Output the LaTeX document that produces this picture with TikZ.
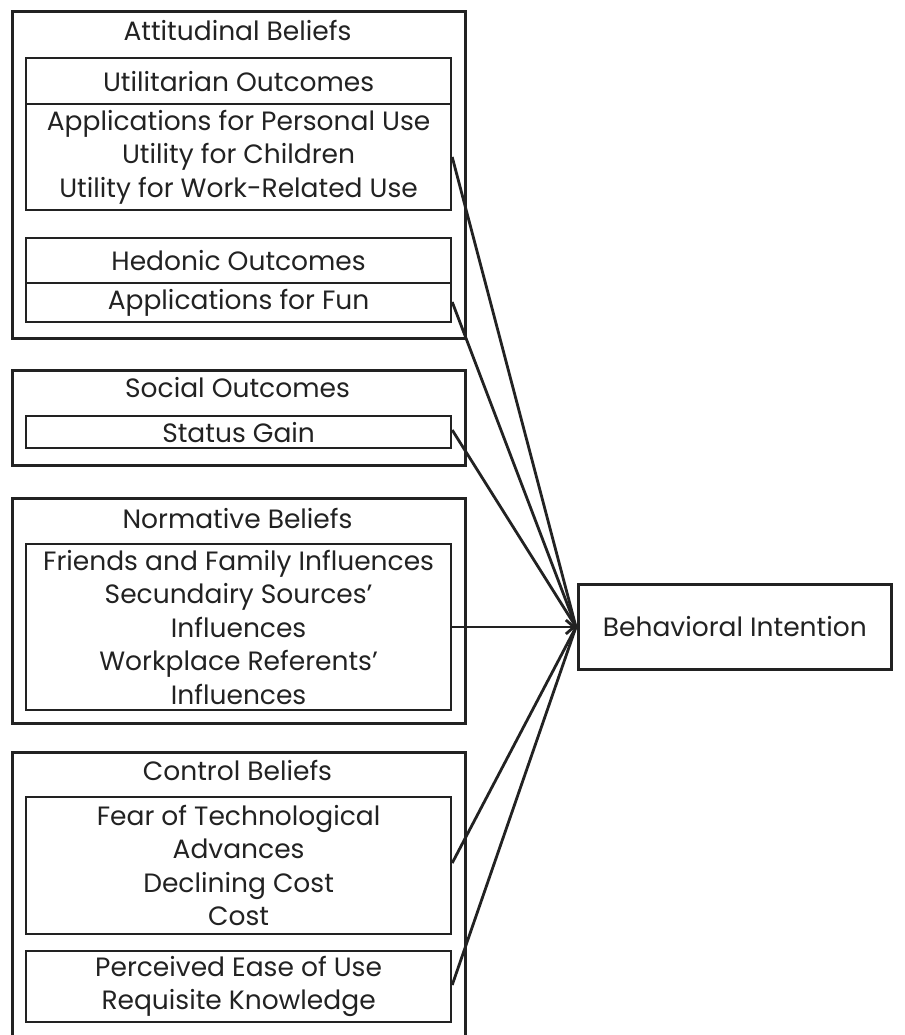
\documentclass[tikz,border=0pt]{standalone}
\usepackage{fontspec}
\setmainfont{Poppins}
\usetikzlibrary{arrows.meta}
\definecolor{ink}{HTML}{222222}
\newcommand{\lblfont}{\fontsize{26.5}{33.5}\selectfont}
\tikzset{
  outerbox/.style={draw=ink, line width=3pt, anchor=north west, inner sep=0pt},
  innerbox/.style={draw=ink, line width=2.2pt, anchor=north west, inner sep=0pt,
                   align=center, font=\lblfont, text=ink},
  title/.style={font=\lblfont, text=ink, inner sep=0pt},
  link/.style={draw=ink, line width=2.8pt},
  arrowlink/.style={link, -{Straight Barb[length=8pt,width=14pt,line width=2.8pt]}},
}
\begin{document}
\begin{tikzpicture}[x=1pt,y=-1pt]
\useasboundingbox[fill=white] (0,0) rectangle (904,1035);

% attitudinal beliefs
\node[outerbox, minimum width=453pt, minimum height=327pt] (att) at (11,10) {};
\node[title] (attT) at (237.5,30) {Attitudinal Beliefs};
\node[innerbox, minimum width=425pt, minimum height=46pt] (utilH) at (25,57) {Utilitarian Outcomes};
\node[innerbox, minimum width=425pt, minimum height=106pt] (utilB) at (25,103)
  {Applications for Personal Use\\Utility for Children\\Utility for Work-Related Use};
\node[innerbox, minimum width=425pt, minimum height=45pt] (hedH) at (25,237) {Hedonic Outcomes};
\node[innerbox, minimum width=425pt, minimum height=39pt] (hedB) at (25,282) {Applications for Fun};

% social outcomes
\node[outerbox, minimum width=453pt, minimum height=95pt] (soc) at (11,369) {};
\node[title] (socT) at (237.5,388) {Social Outcomes};
\node[innerbox, minimum width=425pt, minimum height=32pt] (status) at (25,415) {Status Gain};

% normative beliefs
\node[outerbox, minimum width=453pt, minimum height=225pt] (norm) at (11,497) {};
\node[title] (normT) at (237.5,518) {Normative Beliefs};
\node[innerbox, minimum width=425pt, minimum height=166pt] (normB) at (25,543)
  {Friends and Family Influences\\Secundairy Sources'\\Influences\\Workplace Referents'\\Influences};

% control beliefs
\node[outerbox, minimum width=453pt, minimum height=286pt] (ctrl) at (11,751) {};
\node[title] (ctrlT) at (237.5,770) {Control Beliefs};
\node[innerbox, minimum width=425pt, minimum height=137pt] (ctrlA) at (25,796)
  {Fear of Technological\\Advances\\Declining Cost\\Cost};
\node[innerbox, minimum width=425pt, minimum height=71pt] (ctrlB) at (25,950)
  {Perceived Ease of Use\\Requisite Knowledge};

% behavioral intention
\node[draw=ink, line width=2.6pt, anchor=north west, minimum width=313pt, minimum height=85pt,
      font=\lblfont, text=ink, inner sep=0pt] (bi) at (577,583) {Behavioral Intention};
\coordinate (hub) at (576,627);

% connectors
\draw[link] (utilB.east |- 0,157) -- (hub);
\draw[link] (hedB.east |- 0,302) -- (hub);
\draw[link] (status.east |- 0,430) -- (hub);
\draw[link] (ctrlA.east |- 0,863) -- (hub);
\draw[link] (ctrlB.east |- 0,985) -- (hub);
\draw[arrowlink] (normB.east |- 0,627) -- (hub);
\end{tikzpicture}
\end{document}
